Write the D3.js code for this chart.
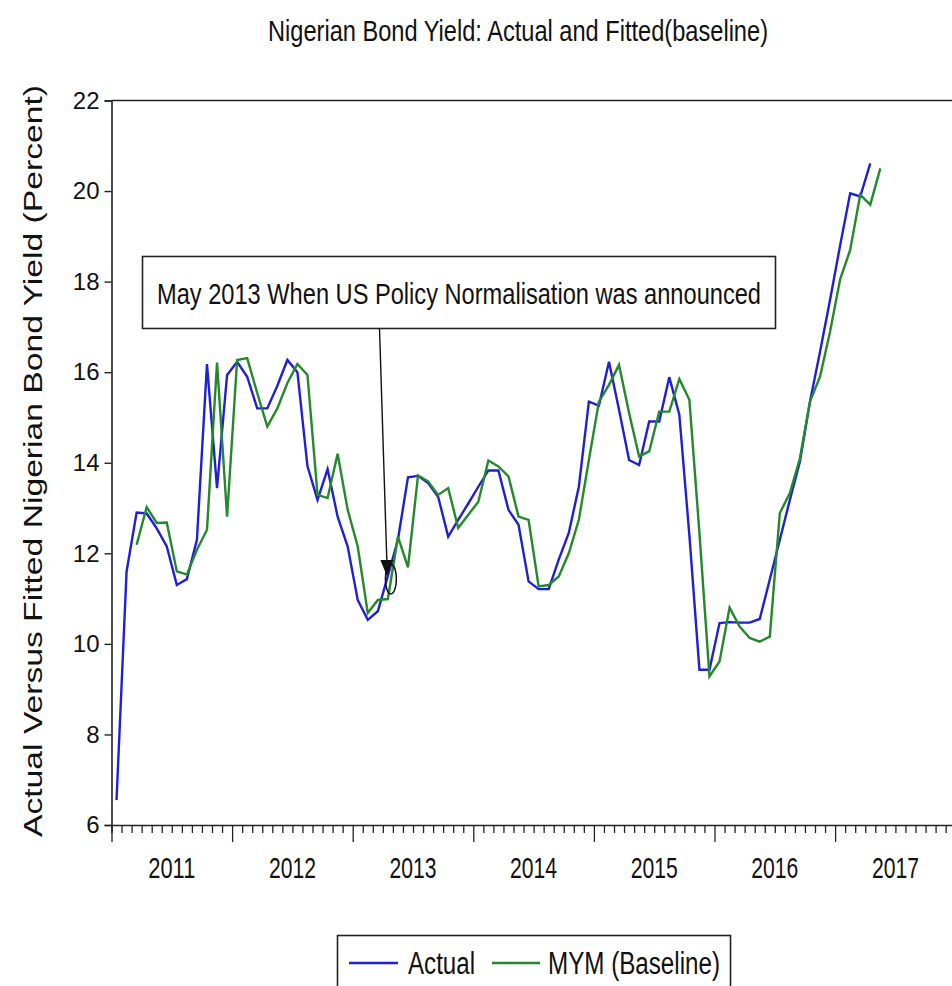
<!DOCTYPE html>
<html><head><meta charset="utf-8">
<script src="https://cdn.jsdelivr.net/npm/d3@7"></script>
<style>body{margin:0;background:#fff;} svg{display:block}</style>
</head><body><svg id="chart" width="952" height="986"></svg>
<script>
// ---- data ----
const yearLabels = ["2011","2012","2013","2014","2015","2016","2017"];
const yTicks = [6, 8, 10, 12, 14, 16, 18, 20, 22];
const actualStart = "2011-01";
const actual = [6.55, 11.6, 12.9, 12.88, 12.55, 12.15, 11.3, 11.43, 12.3, 16.18, 13.44, 15.94,
  16.23, 15.9, 15.2, 15.2, 15.7, 16.27, 16.0, 13.92, 13.18, 13.86, 12.81, 12.15,
  10.97, 10.53, 10.72, 11.5, 12.3, 13.68, 13.71, 13.55, 13.25, 12.37, 12.74, 13.1,
  13.47, 13.83, 13.83, 12.96, 12.63, 11.38, 11.21, 11.21, 11.86, 12.45, 13.47, 15.35,
  15.26, 16.23, 15.17, 14.06, 13.95, 14.91, 14.91, 15.89, 15.06, 12.4, 9.43, 9.43,
  10.46, 10.48, 10.47, 10.47, 10.55, 11.42, 12.3, 13.18, 14.03, 15.35, 16.45, 17.6,
  18.8, 19.95, 19.88, 20.61];
const fittedStart = "2011-03";
const fitted = [12.19, 13.02, 12.67, 12.68, 11.6, 11.53, 12.08, 12.52, 16.21, 12.81,
  16.27, 16.31, 15.54, 14.8, 15.2, 15.76, 16.18, 15.94, 13.29, 13.22, 14.2, 12.96,
  12.15, 10.68, 10.97, 10.99, 12.37, 11.69, 13.72, 13.59, 13.29, 13.44, 12.56, 12.85,
  13.14, 14.05, 13.92, 13.7, 12.81, 12.74, 11.27, 11.3, 11.49, 12.0, 12.74, 14.06,
  15.35, 15.72, 16.16, 15.1, 14.14, 14.25, 15.13, 15.13, 15.85, 15.39, 12.45, 9.28,
  9.61, 10.8, 10.38, 10.13, 10.05, 10.16, 12.89, 13.33, 14.1, 15.35, 15.9, 16.9,
  18.05, 18.7, 19.92, 19.7, 20.5];
const seriesNames = ["Actual", "MYM (Baseline)"];
const seriesColors = ["#1f1fd6", "#23892a"];
const titleText = "Nigerian Bond Yield: Actual and Fitted(baseline)";
const yTitle = "Actual Versus Fitted Nigerian Bond Yield (Percent)";
const noteText = "May 2013 When US Policy Normalisation was announced";
const noteMonth = "2013-04";
const noteValue = 11.5;

// ---- helpers ----
const baseYear = 2011;
function monthIndex(s) { const [y, m] = s.split("-").map(Number); return (y - baseYear) * 12 + (m - 1); }
function toPoints(start, vals) { const s = monthIndex(start); return vals.map((v, i) => ({ t: s + i + 0.5, v })); }

const svg = d3.select("#chart");
const narrow = "'Liberation Sans Narrow','Arial Narrow','Liberation Sans',Arial,sans-serif";
const regular = "'Liberation Sans',Arial,sans-serif";

const x = d3.scaleLinear().domain([0, 84]).range([111.5, 955.7]);
const y = d3.scaleLinear().domain([6, 22]).range([825, 100.5]);

// title
svg.append("text").attr("x", 518).attr("y", 41).attr("text-anchor", "middle")
  .attr("font-family", narrow).attr("font-size", 29).attr("fill", "#111")
  .attr("textLength", 500).attr("lengthAdjust", "spacingAndGlyphs").text(titleText);

// y title
svg.append("text").attr("transform", "translate(42,461) rotate(-90)").attr("text-anchor", "middle")
  .attr("font-family", regular).attr("font-size", 26).attr("fill", "#111")
  .attr("textLength", 752).attr("lengthAdjust", "spacingAndGlyphs").text(yTitle);

// top border
svg.append("line").attr("x1", x(0)).attr("x2", x(84)).attr("y1", y(22)).attr("y2", y(22))
  .attr("stroke", "#222").attr("stroke-width", 1.6);

// y axis
const gy = svg.append("g").attr("transform", `translate(${x(0)},0)`)
  .call(d3.axisLeft(y).tickValues(yTicks).tickSize(7).tickPadding(5));
gy.select(".domain").attr("stroke", "#222").attr("stroke-width", 1.6);
gy.selectAll(".tick line").attr("stroke", "#222").attr("stroke-width", 1.4);
gy.selectAll(".tick text").attr("font-family", regular).attr("font-size", 24).attr("fill", "#111");

// x axis
const gx = svg.append("g").attr("transform", `translate(0,${y(6)})`)
  .call(d3.axisBottom(x).tickValues(d3.range(0, 85)).tickSize(8).tickFormat(""));
gx.select(".domain").attr("stroke", "#222").attr("stroke-width", 1.6);
gx.selectAll(".tick line").attr("stroke", "#222").attr("stroke-width", 1.3)
  .attr("y2", d => d % 12 === 0 ? 17 : 8);
gx.selectAll(".yl").data(yearLabels).enter().append("text")
  .attr("x", (d, i) => x(i * 12 + 6)).attr("y", 53).attr("text-anchor", "middle")
  .attr("font-family", narrow).attr("font-size", 30).attr("fill", "#111")
  .attr("textLength", 47).attr("lengthAdjust", "spacingAndGlyphs").text(d => d);

// lines
const line = d3.line().x(d => x(d.t)).y(d => y(d.v));
const series = [toPoints(actualStart, actual), toPoints(fittedStart, fitted)];
svg.append("defs").append("clipPath").attr("id", "clip").append("rect")
  .attr("x", x(0)).attr("y", y(22)).attr("width", x(84) - x(0)).attr("height", y(6) - y(22));
svg.append("g").attr("clip-path", "url(#clip)").selectAll("path").data(series).enter().append("path")
  .attr("d", line).attr("fill", "none").attr("stroke", (d, i) => seriesColors[i])
  .attr("stroke-width", 2.4).attr("stroke-linejoin", "miter");

// annotation
const tipX = x(monthIndex(noteMonth) + 0.4), tipY = y(noteValue);
svg.append("rect").attr("x", 142.5).attr("y", 256.5).attr("width", 633).attr("height", 72)
  .attr("fill", "#fff").attr("stroke", "#222").attr("stroke-width", 1.6);
svg.append("text").attr("x", 459).attr("y", 304).attr("text-anchor", "middle")
  .attr("font-family", narrow).attr("font-size", 29).attr("fill", "#111")
  .attr("textLength", 604).attr("lengthAdjust", "spacingAndGlyphs").text(noteText);
svg.append("line").attr("x1", 379.5).attr("y1", 328.5).attr("x2", tipX).attr("y2", tipY - 14)
  .attr("stroke", "#111").attr("stroke-width", 1.4);
svg.append("path").attr("d", `M${tipX - 6.5},${tipY - 16} L${tipX + 6.5},${tipY - 16} L${tipX},${tipY} Z`)
  .attr("fill", "#111");
svg.append("ellipse").attr("cx", tipX + 4).attr("cy", tipY + 3).attr("rx", 5.5).attr("ry", 15)
  .attr("fill", "none").attr("stroke", "#111").attr("stroke-width", 1.5);

// legend
const lg = svg.append("g");
lg.append("rect").attr("x", 337.5).attr("y", 935.5).attr("width", 393).attr("height", 80)
  .attr("fill", "#fff").attr("stroke", "#222").attr("stroke-width", 1.6);
const lItems = [{ x1: 349, x2: 398, tx: 408, tw: 67 }, { x1: 492, x2: 540, tx: 548, tw: 172 }];
lItems.forEach((it, i) => {
  lg.append("line").attr("x1", it.x1).attr("x2", it.x2).attr("y1", 963).attr("y2", 963)
    .attr("stroke", seriesColors[i]).attr("stroke-width", 2.4);
  lg.append("text").attr("x", it.tx).attr("y", 974).attr("font-family", narrow).attr("font-size", 31)
    .attr("fill", "#111").attr("textLength", it.tw).attr("lengthAdjust", "spacingAndGlyphs").text(seriesNames[i]);
});
</script></body></html>
